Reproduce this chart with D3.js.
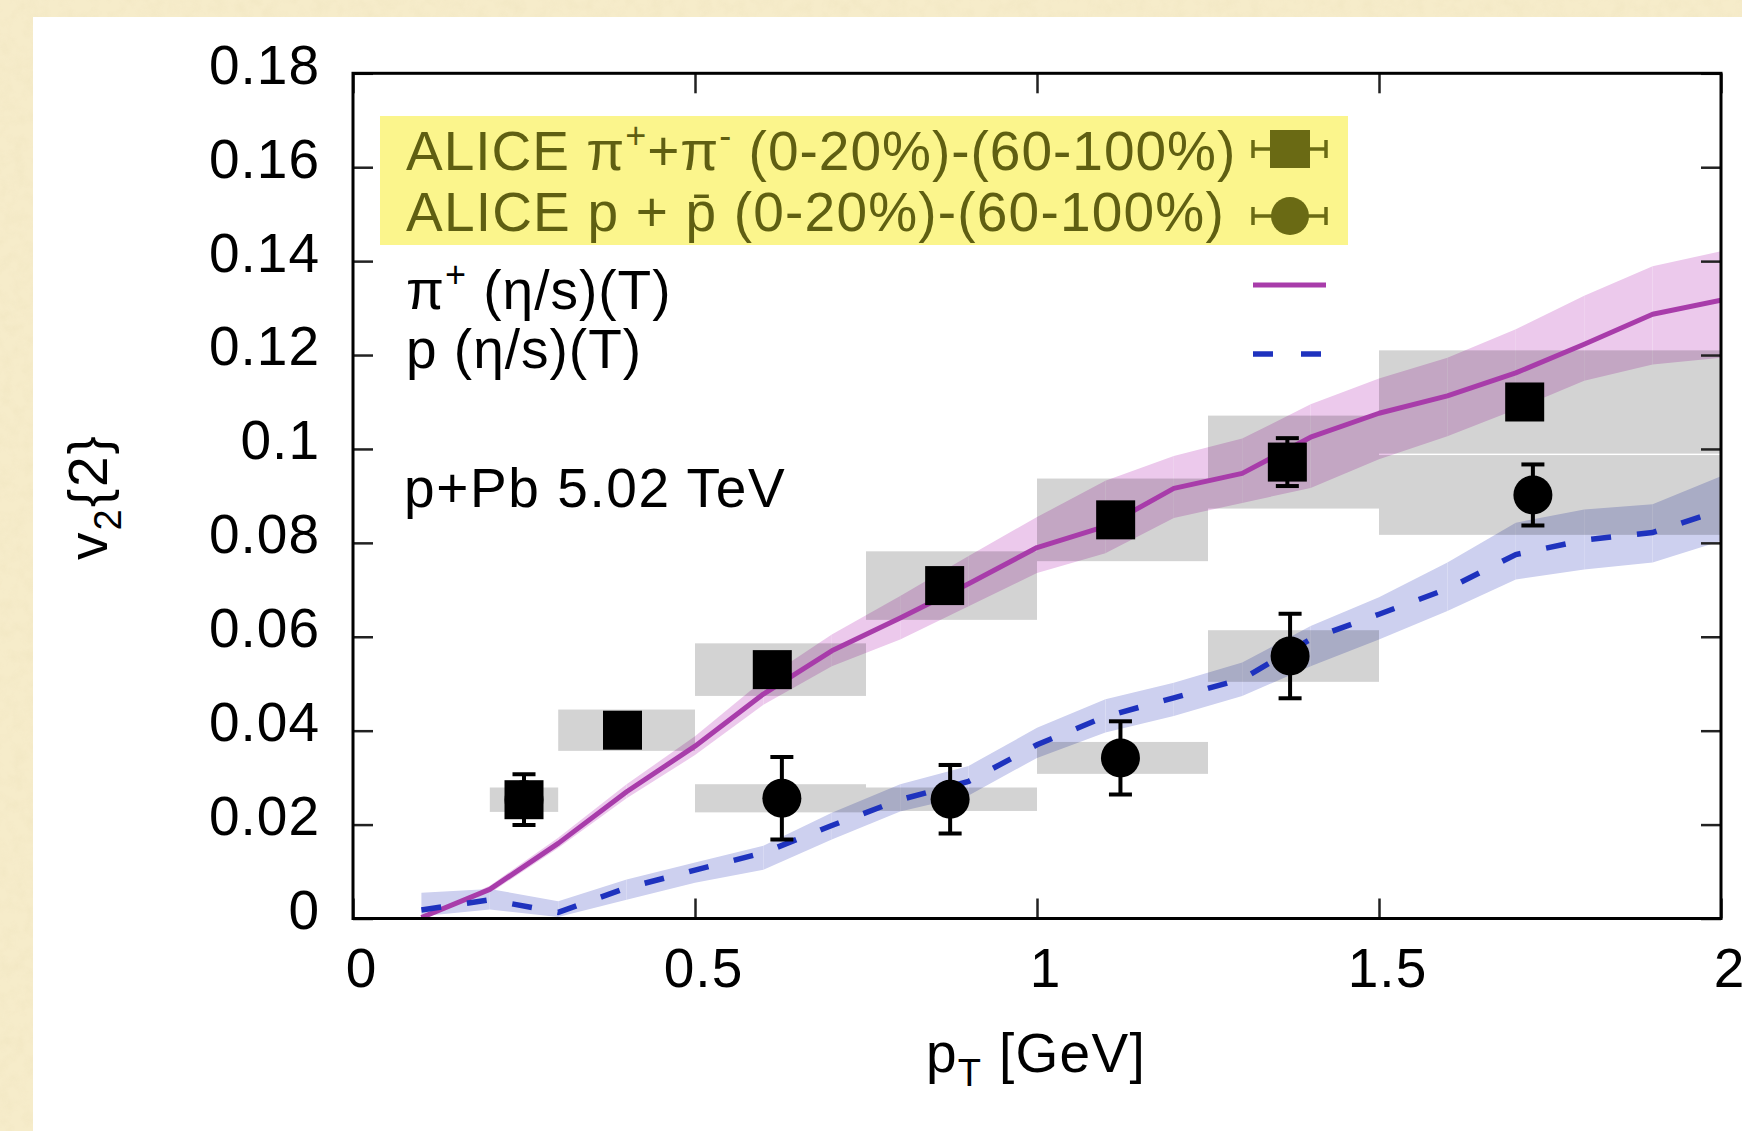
<!DOCTYPE html>
<html>
<head>
<meta charset="utf-8">
<script src="https://cdn.jsdelivr.net/npm/d3@7"></script>
<style>
  html, body { margin: 0; padding: 0; background: #f5ebca; }
  svg { display: block; }
</style>
</head>
<body>
<svg id="chart" width="1742" height="1131"></svg>
<script>
// ---- hydro model curves, sampled every 0.1 GeV ----
const modelPt = [0.1, 0.2, 0.3, 0.4, 0.5, 0.6, 0.7, 0.8, 0.9, 1.0,
                 1.1, 1.2, 1.3, 1.4, 1.5, 1.6, 1.7, 1.8, 1.9, 2.0];
const pionModel   = [0.0002, 0.0062, 0.0160, 0.0270, 0.0367, 0.0478, 0.0570, 0.0640, 0.0713, 0.0790,
                     0.0835, 0.0916, 0.0948, 0.1025, 0.1076, 0.1113, 0.1162, 0.1223, 0.1287, 0.1317];
const pionModelLo = [0.0000, 0.0054, 0.0150, 0.0256, 0.0348, 0.0455, 0.0537, 0.0594, 0.0665, 0.0736,
                     0.0778, 0.0853, 0.0885, 0.0917, 0.0978, 0.1027, 0.1084, 0.1145, 0.1180, 0.1194];
const pionModelHi = [0.0006, 0.0070, 0.0172, 0.0286, 0.0388, 0.0508, 0.0605, 0.0687, 0.0772, 0.0855,
                     0.0932, 0.0985, 0.1022, 0.1095, 0.1150, 0.1194, 0.1255, 0.1326, 0.1389, 0.1421];
const protonModel   = [0.0018, 0.0040, 0.0013, 0.0065, 0.0103, 0.0140, 0.0198, 0.0253, 0.0292, 0.0370,
                       0.0430, 0.0470, 0.0510, 0.0595, 0.0648, 0.0702, 0.0775, 0.0806, 0.0822, 0.0870];
const protonModelLo = [0.0005, 0.0019, 0.0003, 0.0040, 0.0076, 0.0104, 0.0168, 0.0228, 0.0262, 0.0342,
                       0.0396, 0.0431, 0.0474, 0.0537, 0.0594, 0.0655, 0.0722, 0.0743, 0.0758, 0.0804];
const protonModelHi = [0.0055, 0.0063, 0.0037, 0.0083, 0.0119, 0.0155, 0.0225, 0.0286, 0.0325, 0.0406,
                       0.0467, 0.0502, 0.0545, 0.0623, 0.0684, 0.0758, 0.0843, 0.0871, 0.0882, 0.0942];

// ---- ALICE data: (0-20%)-(60-100%) ----
const pionPt     = [0.250, 0.394, 0.613, 0.865, 1.115, 1.366, 1.713];
const pionV2     = [0.0253, 0.0401, 0.0530, 0.0709, 0.0849, 0.0972, 0.1100];
const pionStat   = [0.0020, 0.0020, 0.0020, 0.0020, 0.0030, 0.0051, 0.0030];
const pionSys    = [0.0026, 0.0044, 0.0056, 0.0073, 0.0088, 0.0099, 0.0110];
const pionBinLo  = [0.20, 0.30, 0.50, 0.75, 1.00, 1.25, 1.50];
const pionBinHi  = [0.30, 0.50, 0.75, 1.00, 1.25, 1.50, 2.00];

const protonPt    = [0.250, 0.627, 0.873, 1.122, 1.370, 1.725];
const protonV2    = [0.0253, 0.0256, 0.0254, 0.0342, 0.0559, 0.0902];
const protonStat  = [0.0054, 0.0088, 0.0073, 0.0078, 0.0090, 0.0065];
const protonSys   = [0.0000, 0.0030, 0.0025, 0.0034, 0.0055, 0.0085];
const protonBinLo = [0.20, 0.50, 0.75, 1.00, 1.25, 1.50];
const protonBinHi = [0.30, 0.75, 1.00, 1.25, 1.50, 2.00];

// ---- axes ----
const xTicks = [0, 0.5, 1, 1.5, 2];
const xTickLabels = ["0", "0.5", "1", "1.5", "2"];
const yTicks = [0, 0.02, 0.04, 0.06, 0.08, 0.10, 0.12, 0.14, 0.16, 0.18];
const yTickLabels = ["0", "0.02", "0.04", "0.06", "0.08", "0.1", "0.12", "0.14", "0.16", "0.18"];

const FONT = "'Liberation Sans', Arial, Helvetica, sans-serif";
const W = 1742, H = 1131;
const plot = { left: 353, right: 1721, top: 73.3, bottom: 918.5 };

const svg = d3.select("#chart");

// parchment surround with a faint grain
const defs = svg.append("defs");
const grain = defs.append("filter").attr("id", "grain").attr("x", 0).attr("y", 0)
  .attr("width", "100%").attr("height", "100%");
grain.append("feTurbulence").attr("type", "fractalNoise").attr("baseFrequency", 0.08)
  .attr("numOctaves", 3).attr("seed", 4).attr("result", "n");
grain.append("feColorMatrix").attr("type", "matrix")
  .attr("values", "0 0 0 0 0.80  0 0 0 0 0.70  0 0 0 0 0.45  0 0 0 0.9 -0.35");
defs.append("clipPath").attr("id", "plotClip").append("rect")
  .attr("x", plot.left).attr("y", plot.top)
  .attr("width", plot.right - plot.left).attr("height", plot.bottom - plot.top);

svg.append("rect").attr("width", W).attr("height", H).attr("fill", "#f6ecca");
svg.append("rect").attr("width", W).attr("height", H).attr("filter", "url(#grain)").attr("opacity", 0.45);
svg.append("rect").attr("x", 33).attr("y", 17).attr("width", W - 33).attr("height", H - 17).attr("fill", "#ffffff");

const x = d3.scaleLinear().domain([0, 2]).range([plot.left, plot.right]);
const y = d3.scaleLinear().domain([0, 0.18]).range([plot.bottom, plot.top]);

const g = svg.append("g").attr("clip-path", "url(#plotClip)");

// uncertainty bands, one quad per 0.1 GeV step
function drawBand(lo, hi, fill) {
  const area = d3.area().x(d => x(d.pt)).y0(d => y(d.lo)).y1(d => y(d.hi));
  const segs = d3.range(modelPt.length - 1).map(i => [
    { pt: modelPt[i], lo: lo[i], hi: hi[i] },
    { pt: modelPt[i + 1], lo: lo[i + 1], hi: hi[i + 1] }
  ]);
  g.append("g").selectAll("path").data(segs).join("path")
    .attr("d", area).attr("fill", fill);
}
drawBand(pionModelLo, pionModelHi, "#ecc9ec");
drawBand(protonModelLo, protonModelHi, "#cdd0ef");

// systematic boxes
function drawBoxes(lo, hi, v, sys) {
  const rows = v.map((d, i) => ({ lo: lo[i], hi: hi[i], v: d, s: sys[i] })).filter(d => d.s > 0);
  g.append("g").selectAll("rect").data(rows).join("rect")
    .attr("x", d => x(d.lo)).attr("width", d => x(d.hi) - x(d.lo))
    .attr("y", d => y(d.v + d.s)).attr("height", d => y(d.v - d.s) - y(d.v + d.s))
    .attr("fill", "rgba(0,0,0,0.172)");
}
drawBoxes(pionBinLo, pionBinHi, pionV2, pionSys);
drawBoxes(protonBinLo, protonBinHi, protonV2, protonSys);

// model lines
const line = d3.line().x(d => x(d[0])).y(d => y(d[1]));
const PION_COL = "#a83caa", PROTON_COL = "#1e32be";
g.append("path").datum(modelPt.map((p, i) => [p, pionModel[i]]))
  .attr("d", line).attr("fill", "none").attr("stroke", PION_COL)
  .attr("stroke-width", 5).attr("stroke-linejoin", "round");
g.append("path").datum(modelPt.map((p, i) => [p, protonModel[i]]))
  .attr("d", line).attr("fill", "none").attr("stroke", PROTON_COL)
  .attr("stroke-width", 5.5).attr("stroke-dasharray", "20,26");

// stat error bars + markers
function drawErrors(pt, v, e, col) {
  const rows = pt.map((p, i) => ({ p, v: v[i], e: e[i] }));
  const eg = g.append("g").attr("stroke", col).attr("stroke-width", 4);
  eg.selectAll("line.v").data(rows).join("line").attr("class", "v")
    .attr("x1", d => x(d.p)).attr("x2", d => x(d.p))
    .attr("y1", d => y(d.v - d.e)).attr("y2", d => y(d.v + d.e));
  eg.selectAll("line.t").data(rows).join("line").attr("class", "t")
    .attr("x1", d => x(d.p) - 11.5).attr("x2", d => x(d.p) + 11.5)
    .attr("y1", d => y(d.v + d.e)).attr("y2", d => y(d.v + d.e));
  eg.selectAll("line.b").data(rows).join("line").attr("class", "b")
    .attr("x1", d => x(d.p) - 11.5).attr("x2", d => x(d.p) + 11.5)
    .attr("y1", d => y(d.v - d.e)).attr("y2", d => y(d.v - d.e));
}
drawErrors(pionPt, pionV2, pionStat, "#000");
drawErrors(protonPt, protonV2, protonStat, "#000");

const SQ = 39;
g.append("g").selectAll("rect").data(pionPt.map((p, i) => [p, pionV2[i]])).join("rect")
  .attr("x", d => x(d[0]) - SQ / 2).attr("y", d => y(d[1]) - SQ / 2)
  .attr("width", SQ).attr("height", SQ).attr("fill", "#000");
g.append("g").selectAll("circle").data(protonPt.map((p, i) => [p, protonV2[i]])).join("circle")
  .attr("cx", d => x(d[0])).attr("cy", d => y(d[1])).attr("r", 19.5).attr("fill", "#000");

// ---- axes ----
function styleAxis(sel) {
  sel.select(".domain").remove();
  sel.attr("font-size", 55).attr("font-family", FONT);
  sel.selectAll(".tick line").attr("stroke", "#222").attr("stroke-width", 2.5);
  sel.selectAll(".tick text").attr("fill", "#000").attr("letter-spacing", 1);
}
const yAxis = svg.append("g").attr("transform", `translate(${plot.left},0)`)
  .call(d3.axisLeft(y).tickValues(yTicks).tickSize(-20).tickPadding(33)
    .tickFormat((d, i) => yTickLabels[i]));
styleAxis(yAxis);
yAxis.selectAll(".tick text").attr("dy", "0.18em");

svg.append("g").attr("transform", `translate(${plot.right},0)`)
  .call(d3.axisRight(y).tickValues(yTicks).tickSize(-20).tickFormat(""))
  .call(styleAxis);

const xAxis = svg.append("g").attr("transform", `translate(0,${plot.bottom})`)
  .call(d3.axisBottom(x).tickValues(xTicks).tickSize(-20).tickPadding(29)
    .tickFormat((d, i) => xTickLabels[i]));
styleAxis(xAxis);
xAxis.selectAll(".tick text").attr("dx", 8);

svg.append("g").attr("transform", `translate(0,${plot.top})`)
  .call(d3.axisTop(x).tickValues(xTicks).tickSize(-20).tickFormat(""))
  .call(styleAxis);

svg.append("rect").attr("x", plot.left).attr("y", plot.top)
  .attr("width", plot.right - plot.left).attr("height", plot.bottom - plot.top)
  .attr("fill", "none").attr("stroke", "#000").attr("stroke-width", 3);

// axis titles
const xt = svg.append("text").attr("x", 1036).attr("y", 1072).attr("letter-spacing", 1.3)
  .attr("text-anchor", "middle").attr("font-family", FONT).attr("font-size", 55).attr("fill", "#000");
xt.append("tspan").text("p");
xt.append("tspan").attr("font-size", 38).attr("dy", 14).text("T");
xt.append("tspan").attr("dy", -14).text(" [GeV]");

const yt = svg.append("text").attr("transform", "translate(107,497) rotate(-90)").attr("letter-spacing", 2)
  .attr("text-anchor", "middle").attr("font-family", FONT).attr("font-size", 55).attr("fill", "#000");
yt.append("tspan").text("v");
yt.append("tspan").attr("font-size", 38).attr("dy", 14).text("2");
yt.append("tspan").attr("dy", -14).text("{2}");

svg.append("text").attr("x", 404).attr("y", 507).attr("font-family", FONT).attr("letter-spacing", 1.6)
  .attr("font-size", 55).attr("fill", "#000").text("p+Pb 5.02 TeV");

// ---- legend ----
const OLIVE = "#5f5f12", OLIVE_MK = "#6a6a14";
svg.append("rect").attr("x", 380).attr("y", 116).attr("width", 968).attr("height", 129)
  .attr("fill", "#fbf58c");

const l1 = svg.append("text").attr("x", 406).attr("y", 170).attr("font-family", FONT)
  .attr("letter-spacing", 1).attr("font-size", 55).attr("fill", OLIVE);
l1.append("tspan").text("ALICE π");
l1.append("tspan").attr("font-size", 36).attr("dy", -22).text("+");
l1.append("tspan").attr("dy", 22).text("+π");
l1.append("tspan").attr("font-size", 36).attr("dy", -22).text("-");
l1.append("tspan").attr("dy", 22).text("  (0-20%)-(60-100%)");

svg.append("text").attr("x", 406).attr("y", 231).attr("font-family", FONT)
  .attr("letter-spacing", 1.2).attr("font-size", 55).attr("fill", OLIVE)
  .text("ALICE p + p\u0304   (0-20%)-(60-100%)");

const l3 = svg.append("text").attr("x", 406).attr("y", 309).attr("font-family", FONT)
  .attr("letter-spacing", 1).attr("font-size", 55).attr("fill", "#000");
l3.append("tspan").text("π");
l3.append("tspan").attr("font-size", 36).attr("dy", -22).text("+");
l3.append("tspan").attr("dy", 22).text(" (η/s)(T)");
svg.append("text").attr("x", 406).attr("y", 368).attr("font-family", FONT)
  .attr("letter-spacing", 1).attr("font-size", 55).attr("fill", "#000").text("p (η/s)(T)");

// legend keys
const kx0 = 1253, kx1 = 1326, kxc = 1290;
[[149, "square"], [216, "circle"]].forEach(([ky, shape]) => {
  const kg = svg.append("g").attr("stroke", OLIVE_MK).attr("stroke-width", 3.5);
  kg.append("line").attr("x1", kx0).attr("x2", kx1).attr("y1", ky).attr("y2", ky);
  kg.append("line").attr("x1", kx0).attr("x2", kx0).attr("y1", ky - 9).attr("y2", ky + 9);
  kg.append("line").attr("x1", kx1).attr("x2", kx1).attr("y1", ky - 9).attr("y2", ky + 9);
  if (shape === "square") {
    svg.append("rect").attr("x", kxc - 20).attr("y", ky - 19).attr("width", 40).attr("height", 38)
      .attr("fill", OLIVE_MK);
  } else {
    svg.append("circle").attr("cx", kxc).attr("cy", ky).attr("r", 19).attr("fill", OLIVE_MK);
  }
});
svg.append("line").attr("x1", kx0).attr("x2", kx1).attr("y1", 285).attr("y2", 285)
  .attr("stroke", PION_COL).attr("stroke-width", 5);
svg.append("line").attr("x1", kx0).attr("x2", kx1).attr("y1", 354).attr("y2", 354)
  .attr("stroke", PROTON_COL).attr("stroke-width", 5.5).attr("stroke-dasharray", "20,28");
</script>
</body>
</html>
